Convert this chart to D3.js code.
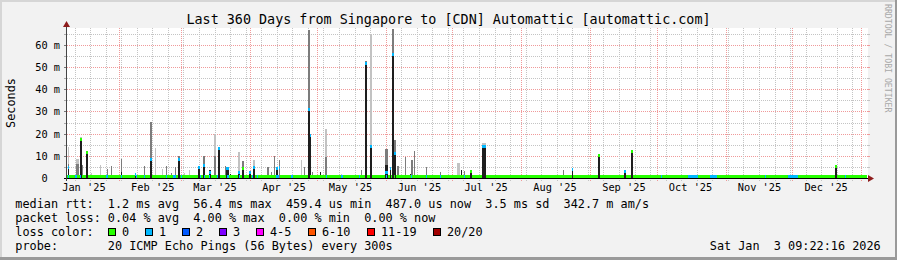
<!DOCTYPE html>
<html><head><meta charset="utf-8">
<script src="https://cdn.jsdelivr.net/npm/d3@7"></script>
<style>
html,body{margin:0;padding:0;background:#f2f2f2;overflow:hidden;}
svg{display:block;}
text{font-family:"DejaVu Sans Mono",monospace;white-space:pre;}
</style></head><body>
<svg id="c" width="897" height="260"></svg>
<script>
// ---------------- data ----------------
const title = "Last 360 Days from Singapore to [CDN] Automattic [automattic.com]";
const endTime = "2026-01-03T09:22:16";
const spanDays = 360;
const yTickValues = [0, 10, 20, 30, 40, 50, 60];           // ms
const yTickLabels = ["0  ", "10 m", "20 m", "30 m", "40 m", "50 m", "60 m"];
const monthLabels = ["Jan '25","Feb '25","Mar '25","Apr '25","May '25","Jun '25",
                     "Jul '25","Aug '25","Sep '25","Oct '25","Nov '25","Dec '25"];
const baselineMedian = 1.2; // ms

// spikes: centre time, duration (days), dense smoke top, medium smoke top, light smoke top, median (0 = at baseline), loss class
const spikeTime = ["2025-01-09T02","2025-01-13T08","2025-01-14T14","2025-01-15T14","2025-01-17T09","2025-01-19T15",
  "2025-01-23T06","2025-01-26T14","2025-01-28T05","2025-02-02T03","2025-02-08T02","2025-02-12T01","2025-02-15T00",
  "2025-02-17T00","2025-02-20T14","2025-02-21T23","2025-02-24T05","2025-02-26T00","2025-02-28T00","2025-03-02T09",
  "2025-03-04T14","2025-03-08T19","2025-03-11T01","2025-03-13T18","2025-03-15T19","2025-03-17T19","2025-03-20T12",
  "2025-03-21T14","2025-03-22T18","2025-03-26T19","2025-03-28T14","2025-03-31T18","2025-04-02T13","2025-04-08T20",
  "2025-04-10T05","2025-04-11T19","2025-04-12T21","2025-04-13T19","2025-04-24T03","2025-04-25T01","2025-04-27T07",
  "2025-04-28T00","2025-04-29T02","2025-05-02T06","2025-05-04T23","2025-05-12T03","2025-05-21T03","2025-05-22T21",
  "2025-05-25T05","2025-06-01T09","2025-06-03T00","2025-06-04T02","2025-06-05T02","2025-06-06T08","2025-06-09T12",
  "2025-06-12T00","2025-06-12T15","2025-06-13T13","2025-06-18T23","2025-06-25T06","2025-07-03T14","2025-07-05T00",
  "2025-07-06T01","2025-07-09T09","2025-07-15T01","2025-08-19T17","2025-08-23T21","2025-09-04T19","2025-09-16T12",
  "2025-09-19T15","2025-12-20T11"];
const spikeSpan = [0.7,1.35,0.9,0.45,1.1,0.45, 0.45,0.6,0.45,0.45,0.45,0.45,0.9, 0.45,0.45,0.45,0.45,0.45,0.9,0.45,
  0.45,0.9,0.9,0.7,0.9,0.9,0.45, 1.1,0.45,0.9,0.7,0.7,0.9,0.7, 0.45,0.45,1.1,0.45,0.45,0.45,0.7,
  0.7,0.45,0.45,0.9,0.45,0.45,1.1, 0.9,1.35,0.7,0.9,0.9,0.9,0.45, 0.45,0.7,0.45,0.45,0.45,1.35,0.45,
  0.45,0.9,1.8,0.45,0.7,0.9,0.7, 0.9,0.9];
const spikeDark = [5.3,0,17.3,0,11.3,0, 0,0,0,3,2,0,8.8, 0,0,0,0,0,8.6,0,
  0,5.3,5.8,3.8,0,13.6,0, 4.5,2,3,4.6,3,5.3,0, 0,0,4.8,0,0,0,31.4,
  19.6,0,2.8,0,0,0,52, 14.6,6,4.8,56,11.3,0,0, 2,0,0,0,0,0,3.8,
  0,2.8,14.3,0,4.2,10.6,3.4, 12.4,5.6];
const spikeMid = [6.5,6.5,18,6,0,0, 0,4.5,5.8,8.8,0,5.8,25.6, 0,0,5.8,2.5,5,10,0,
  0,0,10,0,10,0,5.6, 0,0,0,8,0,0,5.3, 3,10,0,8.3,0,5.3,67,
  0,3,0,9.6,0,4,53, 0,13.3,0,67.4,17.3,5.8,9.6, 0,8.3,12.3,5.3,3,0,0,
  3.5,0,0,3.8,0,0,0, 0,0];
const spikeLight = [14,9,18.5,0,12,2.5, 6,0,0,0,0,0,0, 13.8,4.5,0,0,0,0,2.5,
  3.8,0,0,0,20,0,0, 0,0,11.8,0,0,8.3,0, 0,0,0,0,8.3,0,0,
  0,0,0,22.4,2,0,0, 64.7,0,0,0,0,0,0, 0,0,0,0,0,6.8,0,
  0,0,15.8,0,0,0,0, 0,0];
const spikeMedian = [5.3,0,18,0,11.8,0, 0,0,0,0,2,0,8.8, 0,0,0,0,0,8.6,0,
  0,5.3,6,3,0,13.8,0, 4.6,0,3,4.6,3,5.3,0, 0,0,4.8,5,0,0,31.4,
  19.6,0,0,0,0,0,52, 14.6,3,4.8,56,11.6,0,0, 0,0,0,0,0,0,0,
  0,3.5,14.5,0,4.2,10.6,3.4, 12.4,5.6];
const spikeLoss = [1,0,0,0,0,0, 0,0,0,0,1,0,1, 0,0,0,0,0,1,0,
  0,1,1,1,0,1,0, 1,0,1,0,1,1,0, 0,0,1,1,0,0,1,
  1,0,0,0,0,0,1, 1,1,1,1,1,0,0, 0,0,0,0,0,0,0,
  0,0,1,0,1,0,1, 0,0];

// periods where the baseline median carried 1/20 loss
const lossTime = ["2025-01-09T02","2025-01-12T11","2025-01-14T11","2025-01-26T09","2025-02-02T03","2025-02-08T11",
  "2025-02-12T06","2025-02-22T06","2025-02-25T18","2025-02-28T17","2025-03-09T06","2025-03-11T01","2025-03-13T07",
  "2025-03-17T08","2025-03-21T20","2025-03-27T00","2025-04-02T02","2025-04-04T08","2025-04-13T03","2025-04-19T12",
  "2025-05-04T23","2025-05-12T07","2025-05-19T19","2025-06-01T09","2025-06-12T12","2025-06-18T23","2025-06-25T06",
  "2025-07-06T01","2025-10-03T00","2025-10-17T02","2025-10-26T05","2025-11-18T12","2025-12-01T00","2025-12-24T12"];
const lossSpan = [0.7,1.3,0.7,1.3,0.45,0.45, 0.45,0.45,1.1,0.45,0.45,0.45,0.45,
  0.45,1.1,0.45,0.45,0.45,1.3,0.9, 0.45,0.9,0.45,0.45,0.7,0.45,0.45,
  0.45,0.45,4.5,3,0.45,4.5,0.45];

const lossColors = ["#26ff00","#00b8ff","#0059ff","#7e00ff","#ff00ff","#ff5500","#ff0000","#a10000"];
const lossLabels = ["0","1","2","3","4-5","6-10","11-19","20/20"];
const medianStats = ["1.2 ms avg","56.4 ms max","459.4 us min","487.0 us now","3.5 ms sd","342.7 m am/s"];
const lossStats = ["0.04 % avg","4.00 % max","0.00 % min","0.00 % now"];
const probeText = "20 ICMP Echo Pings (56 Bytes) every 300s";
const stampText = "Sat Jan  3 09:22:16 2026";
const watermark = "RRDTOOL / TOBI OETIKER";

// ---------------- layout ----------------
const W = 897, H = 260;
const X0 = 67, X1 = 867, YB = 178.5, YT = 28.5;
const FS_T = 13.4, FS_L = 11.83, FS_A = 10.3;
const CW = FS_L * 0.60205;

const parseH = d3.utcParse("%Y-%m-%dT%H");
const end = d3.utcParse("%Y-%m-%dT%H:%M:%S")(endTime);
const start = d3.utcDay.offset(end, -spanDays);
const x = d3.scaleUtc().domain([start, end]).range([X0, X1]);
const y = d3.scaleLinear().domain([0, 150 / 2.2183]).range([YB, YT]);

const svg = d3.select("#c");
svg.append("rect").attr("width", W).attr("height", H).attr("fill", "#f2f2f2");
// 3D frame
svg.append("rect").attr("x",0).attr("y",0).attr("width",W).attr("height",2).attr("fill","#d6d6d6");
svg.append("rect").attr("x",0).attr("y",0).attr("width",2).attr("height",H).attr("fill","#d6d6d6");
svg.append("rect").attr("x",0).attr("y",H-3).attr("width",W).attr("height",3).attr("fill","#9a9a9a");
svg.append("rect").attr("x",W-2).attr("y",0).attr("width",2).attr("height",H).attr("fill","#9a9a9a");

// canvas
svg.append("rect").attr("x", X0).attr("y", 28).attr("width", X1 - X0 + 1).attr("height", 150).attr("fill", "#ffffff");

const grid = svg.append("g").attr("shape-rendering", "crispEdges");
const minorCol = "#c4c4c4", majorCol = "#f09a9a";
// horizontal grid
d3.range(5, y.domain()[1], 5).forEach(v => {
  const yy = Math.floor(y(v)) + 0.5;
  const major = v % 10 === 0;
  grid.append("line").attr("x1", X0).attr("x2", X1 + 1).attr("y1", yy).attr("y2", yy)
    .attr("stroke", major ? majorCol : minorCol).attr("stroke-dasharray", "1,1");
  grid.append("line").attr("x1", X0 - 3).attr("x2", X0).attr("y1", yy).attr("y2", yy)
    .attr("stroke", major ? "#777" : "#aaa");
  grid.append("line").attr("x1", X1 + 1).attr("x2", X1 + 3).attr("y1", yy).attr("y2", yy)
    .attr("stroke", major ? majorCol : minorCol);
});
// vertical grid: weeks and months
d3.utcSunday.range(start, end).forEach(d => {
  const xx = Math.floor(x(d)) + 0.5;
  grid.append("line").attr("x1", xx).attr("x2", xx).attr("y1", 28).attr("y2", 181)
    .attr("stroke", minorCol).attr("stroke-dasharray", "1,1");
});
d3.utcMonth.range(start, end).forEach(d => {
  const xx = Math.floor(x(d)) + 0.5;
  grid.append("line").attr("x1", xx).attr("x2", xx).attr("y1", 28).attr("y2", 181)
    .attr("stroke", majorCol).attr("stroke-dasharray", "1,1");
});

// ---------------- smoke ----------------
const spikes = spikeTime.map((t, i) => {
  const c = parseH(t);
  const half = spikeSpan[i] / 2 * 864e5;
  return { a: new Date(+c - half), b: new Date(+c + half), dark: spikeDark[i], mid: spikeMid[i],
           light: spikeLight[i], med: spikeMedian[i], loss: spikeLoss[i] };
});
const px = (a, b) => { const l = Math.round(x(a)); return [l, Math.max(1, Math.round(x(b)) - l)]; };
const smoke = svg.append("g").attr("shape-rendering", "crispEdges");
[["light", "#c2c2c2"], ["mid", "#7c7c7c"], ["dark", "#1e1e1e"]].forEach(([k, col]) => {
  smoke.selectAll("rect." + k).data(spikes.filter(s => s[k] > 0)).join("rect").attr("class", k)
    .attr("x", s => px(s.a, s.b)[0]).attr("width", s => px(s.a, s.b)[1])
    .attr("y", s => Math.round(y(s[k]))).attr("height", s => Math.round(YB) - Math.round(y(s[k])))
    .attr("fill", col);
});

// ---------------- median band ----------------
const gaps = spikes.filter(s => s.med > 0).map(s => [s.a, s.b]).sort((p, q) => p[0] - q[0]);
const segs = [];
let cur = start;
gaps.forEach(([a, b]) => { if (a > cur) segs.push([cur, a]); if (b > cur) cur = b; });
if (cur < end) segs.push([cur, end]);
const band = svg.append("g").attr("shape-rendering", "crispEdges");
const bandTop = v => Math.round(y(v) - 1);
band.selectAll("rect.g").data(segs).join("rect").attr("class", "g")
  .attr("x", s => px(s[0], s[1])[0]).attr("width", s => px(s[0], s[1])[1])
  .attr("y", bandTop(baselineMedian)).attr("height", 3).attr("fill", lossColors[0]);
band.selectAll("rect.l").data(lossTime.map((t, i) => {
  const c = parseH(t), half = lossSpan[i] / 2 * 864e5;
  return [new Date(+c - half), new Date(+c + half)];
})).join("rect").attr("class", "l")
  .attr("x", s => px(s[0], s[1])[0]).attr("width", s => px(s[0], s[1])[1])
  .attr("y", bandTop(baselineMedian)).attr("height", 3).attr("fill", lossColors[1]);
band.selectAll("rect.m").data(spikes.filter(s => s.med > 0)).join("rect").attr("class", "m")
  .attr("x", s => px(s.a, s.b)[0]).attr("width", s => px(s.a, s.b)[1])
  .attr("y", s => bandTop(s.med)).attr("height", 3).attr("fill", s => lossColors[s.loss]);

// ---------------- axes ----------------
const ax = svg.append("g").attr("shape-rendering", "crispEdges");
ax.append("line").attr("x1", X0 - 3).attr("x2", X1 + 2).attr("y1", 178.5).attr("y2", 178.5).attr("stroke", "#000");
ax.append("line").attr("x1", 66.5).attr("x2", 66.5).attr("y1", 181).attr("y2", 26).attr("stroke", "#444");
svg.append("path").attr("d", "M868,175 L874,178.5 L868,182 Z").attr("fill", "#8e1c1c");
svg.append("path").attr("d", "M63,27 L66.5,21 L70,27 Z").attr("fill", "#8e1c1c");

// y labels
svg.selectAll("text.yl").data(yTickValues).join("text").attr("class", "yl")
  .attr("x", 60).attr("y", v => Math.floor(y(v)) + 0.5 + 3.4)
  .attr("text-anchor", "end").attr("font-size", FS_A).attr("fill", "#000")
  .text((v, i) => yTickLabels[i]);

// month labels centred mid-month
const months = d3.utcMonth.range(d3.utcMonth.floor(start), end)
  .filter(m => { const c = x(d3.utcDay.offset(m, 15)); return c > X0 && c < X1; });
svg.selectAll("text.xl").data(months).join("text").attr("class", "xl")
  .attr("x", m => x(d3.utcDay.offset(m, 15))).attr("y", 191)
  .attr("text-anchor", "middle").attr("font-size", FS_A).attr("fill", "#000")
  .text((m, i) => monthLabels[i]);

// title
svg.append("text").attr("x", W / 2).attr("y", 24).attr("text-anchor", "middle")
  .attr("font-size", FS_T).attr("fill", "#000").text(title);

// vertical label
svg.append("text").attr("transform", "translate(14.5,103) rotate(-90)").attr("text-anchor", "middle")
  .attr("font-size", FS_L).attr("fill", "#000").text("Seconds");

// watermark
svg.append("text").attr("transform", "translate(884.5,4) rotate(90)")
  .attr("font-size", 8.2).attr("fill", "#a8a8a8").text(watermark);

// ---------------- legend ----------------
const LX = 15.3;
const leg = svg.append("g").attr("font-size", FS_L).attr("fill", "#000");
leg.append("text").attr("x", LX).attr("y", 207.5).text("median rtt:  " + medianStats.join("  "));
leg.append("text").attr("x", LX).attr("y", 221.5).text("packet loss: " + lossStats.join("  "));
leg.append("text").attr("x", LX).attr("y", 235.5).text("loss color:  ");
leg.append("text").attr("x", LX).attr("y", 249.5).text("probe:       " + probeText);
leg.append("text").attr("x", 880.7).attr("y", 249.5).attr("text-anchor", "end").text(stampText);
let bx = LX + 13 * CW + 0.5;
lossLabels.forEach((lab, i) => {
  const b = Math.round(bx);
  leg.append("rect").attr("x", b + 0.5).attr("y", 228.5).attr("width", 7).attr("height", 7)
    .attr("fill", lossColors[i]).attr("stroke", "#000").attr("stroke-width", 1);
  leg.append("text").attr("x", b + 14).attr("y", 235.5).text(lab);
  bx = b + 14 + lab.length * CW + 16.2;
});
</script>
</body></html>
